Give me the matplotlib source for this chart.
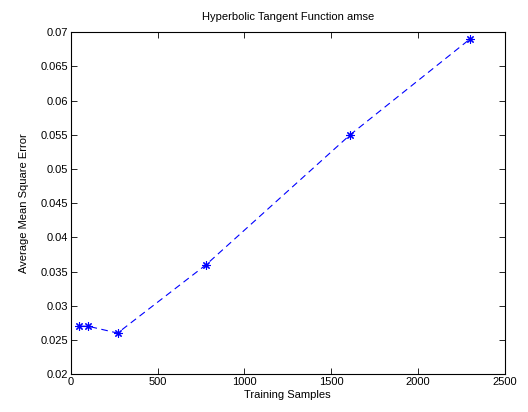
import matplotlib
matplotlib.use("Agg")
import matplotlib.pyplot as plt

samples = [50, 100, 270, 780, 1610, 2300]
amse = [0.027, 0.027, 0.026, 0.036, 0.055, 0.069]
xticks = [0, 500, 1000, 1500, 2000, 2500]
yticks = [0.02, 0.025, 0.03, 0.035, 0.04, 0.045, 0.05, 0.055, 0.06, 0.065, 0.07]
ytick_labels = ["0.02", "0.025", "0.03", "0.035", "0.04", "0.045", "0.05",
                "0.055", "0.06", "0.065", "0.07"]

plt.rcParams['font.family'] = ['Liberation Sans', 'DejaVu Sans']
plt.rcParams['font.size'] = 8

fig = plt.figure(figsize=(5.28, 4.12), dpi=100)
ax = fig.add_axes([0.134, 0.092, 0.822, 0.830])
# matlab style '*' marker = 8 spoke asterisk
ax.plot(samples, amse, color='blue', linestyle='--', linewidth=0.8, dashes=(6, 4),
        marker=(8, 2, 0), markersize=6, markeredgewidth=0.8)
ax.set_xlim(0, 2500)
ax.set_ylim(0.02, 0.07)
ax.set_xticks(xticks)
ax.set_yticks(yticks)
ax.set_yticklabels(ytick_labels)
ax.tick_params(direction='in', top=True, right=True, length=4, width=0.6, pad=2)
for s in ax.spines.values():
    s.set_linewidth(0.8)
ax.set_xlabel("Training Samples", labelpad=2)
ax.set_ylabel("Average Mean Square Error", labelpad=8)
ax.set_title("Hyperbolic Tangent Function amse", fontsize=8, pad=9)

fig.savefig("out.png", dpi=100)
